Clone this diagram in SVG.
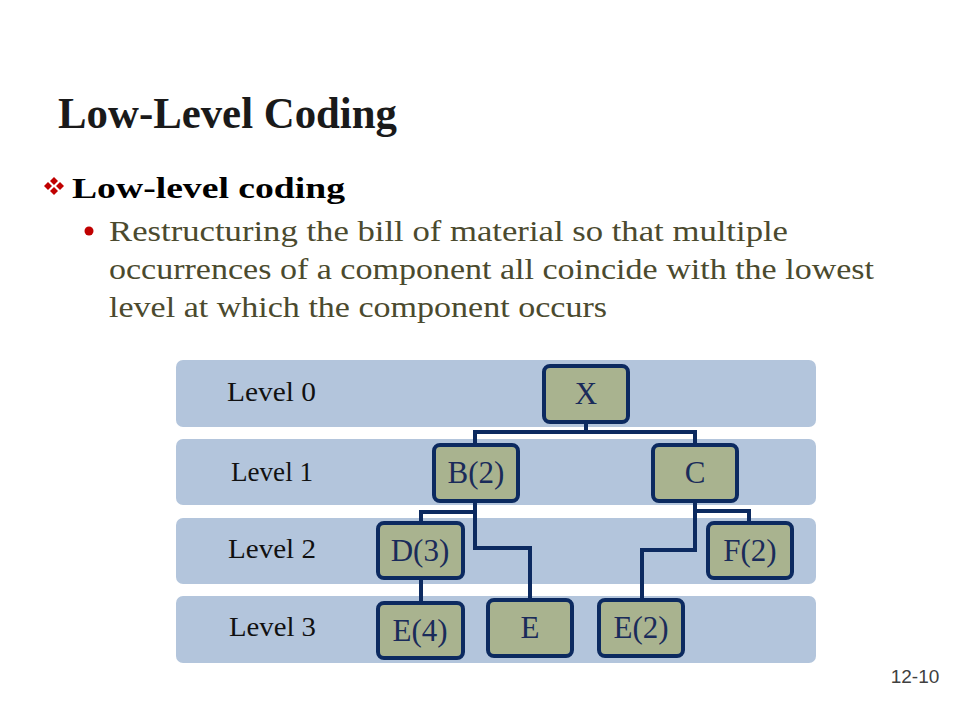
<svg xmlns="http://www.w3.org/2000/svg" width="960" height="720" viewBox="0 0 960 720">
<style>
.band{fill:#b3c5dc}
.node rect{fill:#a9b38f;stroke:#0c2a60;stroke-width:4}
.node text{font-family:"Liberation Serif",serif;font-size:31px;fill:#1a2b5a;text-anchor:middle}
.lvl{font-family:"Liberation Serif",serif;font-size:27px;fill:#111}
.body{font-family:"Liberation Serif",serif;font-size:29px;fill:#4b4a2e}
#connectors path{fill:none;stroke:#0c2a60;stroke-width:4;stroke-linejoin:miter}
</style>
<rect width="960" height="720" fill="#fff"/>
<text x="58" y="128" font-family="Liberation Serif,serif" font-weight="bold" font-size="44" fill="#1a1a1a" textLength="339" lengthAdjust="spacingAndGlyphs">Low-Level Coding</text>
<g fill="#c00000">
<path d="M54 177 l4 4 l-4 4 l-4 -4z"/>
<path d="M54 187 l4 4 l-4 4 l-4 -4z"/>
<path d="M48 182 l4 4 l-4 4 l-4 -4z"/>
<path d="M60 182 l4 4 l-4 4 l-4 -4z"/>
</g>
<text x="72" y="198" font-family="Liberation Serif,serif" font-weight="bold" font-size="30" fill="#000" textLength="273" lengthAdjust="spacingAndGlyphs">Low-level coding</text>
<circle cx="89" cy="231" r="4.5" fill="#c00000"/>
<text class="body" x="109" y="241" textLength="679" lengthAdjust="spacingAndGlyphs">Restructuring the bill of material so that multiple</text>
<text class="body" x="109" y="279" textLength="765" lengthAdjust="spacingAndGlyphs">occurrences of a component all coincide with the lowest</text>
<text class="body" x="109" y="317" textLength="498" lengthAdjust="spacingAndGlyphs">level at which the component occurs</text>
<g id="bands">
<rect class="band" x="176" y="360" width="640" height="67" rx="7"/>
<rect class="band" x="176" y="439" width="640" height="66" rx="7"/>
<rect class="band" x="176" y="518" width="640" height="66" rx="7"/>
<rect class="band" x="176" y="596" width="640" height="67" rx="7"/>
<text class="lvl" x="227" y="401" textLength="89" lengthAdjust="spacingAndGlyphs">Level 0</text>
<text class="lvl" x="231" y="481" textLength="82" lengthAdjust="spacingAndGlyphs">Level 1</text>
<text class="lvl" x="228" y="558" textLength="88" lengthAdjust="spacingAndGlyphs">Level 2</text>
<text class="lvl" x="229" y="636" textLength="87" lengthAdjust="spacingAndGlyphs">Level 3</text>
</g>
<g id="connectors">
<path d="M586 423 V432 M475 444 V432 H695 V444"/>
<path d="M475 502 V548 H530 V599 M475 512 H421 V522"/>
<path d="M421 579 V602"/>
<path d="M695 502 V550 H642 V599 M695 511 H749 V522"/>
</g>
<g id="node-X" class="node"><rect x="544" y="366" width="84" height="56" rx="6"/><text x="586" y="404">X</text></g>
<g id="node-B" class="node"><rect x="434" y="445" width="84" height="56" rx="6"/><text x="476" y="483">B(2)</text></g>
<g id="node-C" class="node"><rect x="653" y="445" width="84" height="56" rx="6"/><text x="695" y="483">C</text></g>
<g id="node-D" class="node"><rect x="378" y="523" width="85" height="55" rx="6"/><text x="420" y="561">D(3)</text></g>
<g id="node-F" class="node"><rect x="708" y="523" width="84" height="55" rx="6"/><text x="750" y="561">F(2)</text></g>
<g id="node-E4" class="node"><rect x="378" y="603" width="85" height="55" rx="6"/><text x="420" y="641">E(4)</text></g>
<g id="node-E" class="node"><rect x="488" y="600" width="84" height="56" rx="6"/><text x="530" y="638">E</text></g>
<g id="node-E2" class="node"><rect x="599" y="600" width="84" height="56" rx="6"/><text x="641" y="638">E(2)</text></g>
<text x="915" y="683" font-family="Liberation Sans,sans-serif" font-size="19" fill="#404040" text-anchor="middle">12-10</text>
</svg>
